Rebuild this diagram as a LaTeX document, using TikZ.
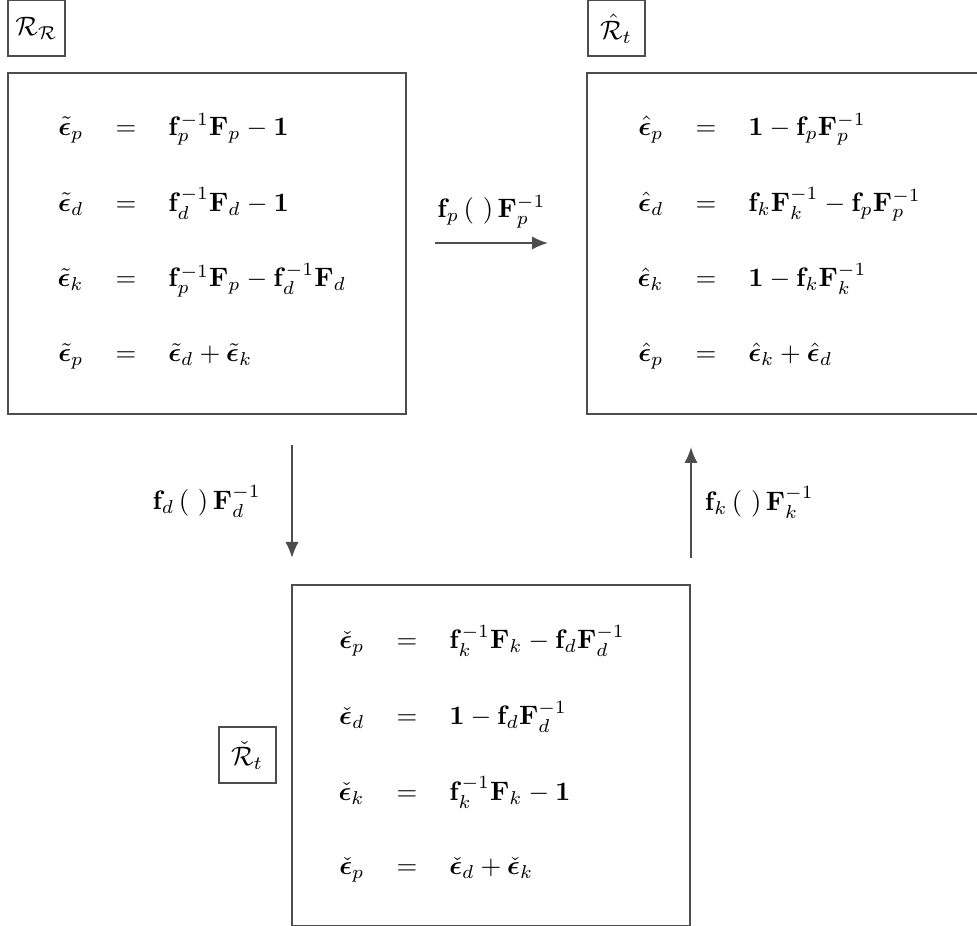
\documentclass[tikz,border=0pt]{standalone}
\usepackage{amsmath,amssymb,bm}
\usetikzlibrary{arrows.meta}
\definecolor{lin}{HTML}{4D4D4D}
\tikzset{
  bigbox/.style={draw=lin, line width=0.75pt, minimum width=398*0.375pt, minimum height=341*0.375pt, inner sep=0pt},
  tagbox/.style={draw=lin, line width=0.75pt, minimum width=57*0.375pt, minimum height=56*0.375pt, inner sep=0pt},
  eqs/.style={inner sep=0pt, anchor=west},
  arr/.style={draw=lin, line width=0.75pt, -{Latex[length=6pt,width=5pt]}},
}
\newcommand{\bep}{\bm{\epsilon}}
\begin{document}
\begin{tikzpicture}[x=0.375pt,y=-0.375pt]
\useasboundingbox (0,0) rectangle (977,926);
\clip (0,0) rectangle (977,926);
% tag boxes
\node[tagbox] (tagL) at (36.5,28.5) {$\mathcal{R}_{\mathcal{R}}$};
\node[tagbox] (tagR) at (616,28.5) {$\hat{\mathcal{R}}_t$};
\node[tagbox] (tagB) at (247,755.5) {$\check{\mathcal{R}}_t$};
% main boxes
\node[bigbox] (boxL) at (207,243.5) {};
\node[bigbox] (boxR) at (786,243.5) {};
\node[bigbox] (boxB) at (491,756) {};
% equations
\node[eqs] (eqL) at (57,242) {$\arraycolsep=6pt\begin{array}{@{}rcl@{}}
\tilde{\bep}_p & = & \mathbf{f}_p^{-1}\mathbf{F}_p-\mathbf{1}\\[16pt]
\tilde{\bep}_d & = & \mathbf{f}_d^{-1}\mathbf{F}_d-\mathbf{1}\\[16pt]
\tilde{\bep}_k & = & \mathbf{f}_p^{-1}\mathbf{F}_p-\mathbf{f}_d^{-1}\mathbf{F}_d\\[16pt]
\tilde{\bep}_p & = & \tilde{\bep}_d+\tilde{\bep}_k
\end{array}$};
\node[eqs] (eqR) at (637,242) {$\arraycolsep=6pt\begin{array}{@{}rcl@{}}
\hat{\bep}_p & = & \mathbf{1}-\mathbf{f}_p\mathbf{F}_p^{-1}\\[16pt]
\hat{\bep}_d & = & \mathbf{f}_k\mathbf{F}_k^{-1}-\mathbf{f}_p\mathbf{F}_p^{-1}\\[16pt]
\hat{\bep}_k & = & \mathbf{1}-\mathbf{f}_k\mathbf{F}_k^{-1}\\[16pt]
\hat{\bep}_p & = & \hat{\bep}_k+\hat{\bep}_d
\end{array}$};
\node[eqs] (eqB) at (338,755) {$\arraycolsep=6pt\begin{array}{@{}rcl@{}}
\check{\bep}_p & = & \mathbf{f}_k^{-1}\mathbf{F}_k-\mathbf{f}_d\mathbf{F}_d^{-1}\\[16pt]
\check{\bep}_d & = & \mathbf{1}-\mathbf{f}_d\mathbf{F}_d^{-1}\\[16pt]
\check{\bep}_k & = & \mathbf{f}_k^{-1}\mathbf{F}_k-\mathbf{1}\\[16pt]
\check{\bep}_p & = & \check{\bep}_d+\check{\bep}_k
\end{array}$};
% arrows
\coordinate (hA) at (435,243);
\coordinate (hB) at (548,243);
\coordinate (dA) at (292,445);
\coordinate (dB) at (292,558);
\coordinate (uA) at (691,558);
\coordinate (uB) at (691,447);
\draw[arr] (hA) -- node[above=2pt] (lp) {$\mathbf{f}_p\,(\ )\,\mathbf{F}_p^{-1}$} (hB);
\draw[arr] (dA) -- node[left=8pt] (ld) {$\mathbf{f}_d\,(\ )\,\mathbf{F}_d^{-1}$} (dB);
\draw[arr] (uA) -- node[right=1.5pt] (lk) {$\mathbf{f}_k\,(\ )\,\mathbf{F}_k^{-1}$} (uB);
\end{tikzpicture}
\end{document}
